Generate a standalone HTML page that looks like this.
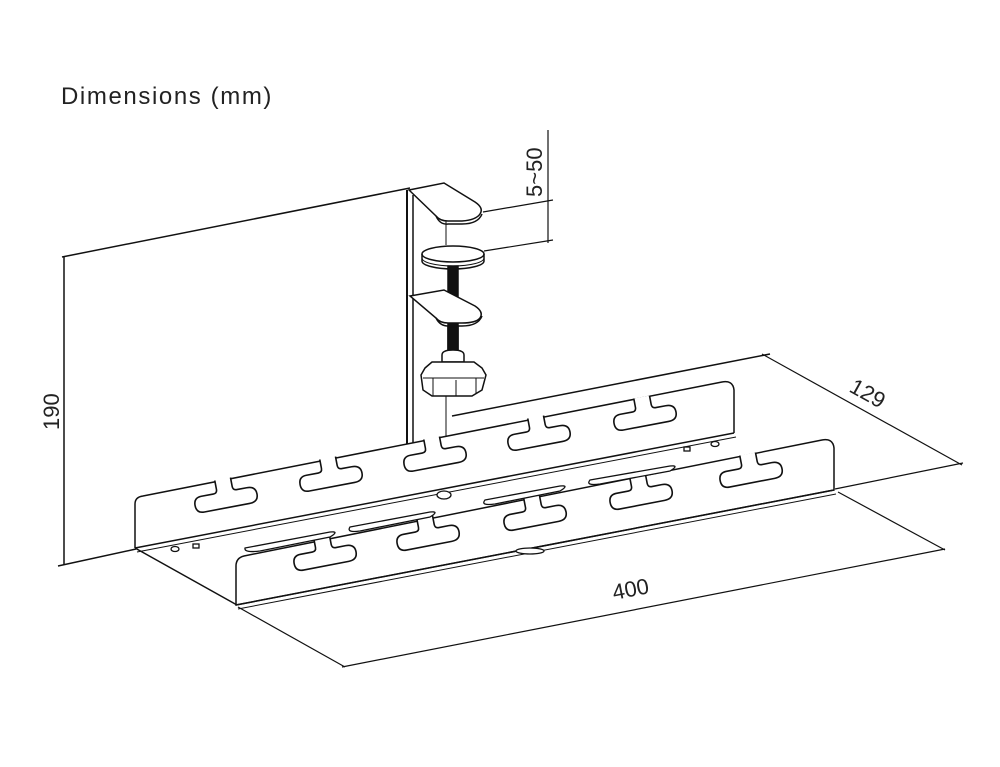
<!DOCTYPE html>
<html><head><meta charset="utf-8"><style>
html,body{margin:0;padding:0;background:#fff;}
svg{display:block}
</style></head><body>
<svg width="1000" height="767" viewBox="0 0 1000 767" xmlns="http://www.w3.org/2000/svg" font-family="Liberation Sans, sans-serif">
<defs>
<path id="n" d="M-8,-2 V7 Q-8,11 -12,11 H-24 Q-32,11 -32,19 Q-32,27 -24,27 H22 Q31,27 31,19 Q31,11 22,11 H12 Q8,11 8,7 V-2" fill="#fff" stroke="#111" stroke-width="1.6" stroke-linejoin="round"/>
</defs>
<rect width="1000" height="767" fill="#fff"/>
<text x="61" y="104" font-size="24" fill="#222" letter-spacing="1.6">Dimensions (mm)</text>

<g fill="none" stroke="#111" stroke-width="1.5">
<line x1="62" y1="257" x2="410" y2="188"/>
<line x1="64" y1="257" x2="64" y2="565"/>
<line x1="58" y1="566" x2="136" y2="549"/>
<line x1="407" y1="190" x2="407" y2="450" stroke-width="2"/>
<line x1="413" y1="195" x2="413" y2="445"/>
<line x1="446" y1="215" x2="446" y2="245" stroke-width="1"/>
<line x1="446" y1="395" x2="446" y2="440" stroke-width="1"/>
<path d="M409,190 L444,183 L475,202 Q484,208 480,214 Q476,220 462,221 L448,221 Q440,221 436,216 Z" fill="#fff"/>
<path d="M436,216 Q440,225 448,224 L462,224 Q478,224 482,214" />
<ellipse cx="453" cy="254" rx="31" ry="8" fill="#fff"/>
<path d="M422,254 V261 A31,8 0 0 0 484,261 V254"/>
<path d="M422,258 A31,8 0 0 0 484,258" stroke-width="1"/>
<rect x="448" y="266" width="10" height="90" fill="#111"/>
<path d="M410,296 L444,290 L475,306 Q484,312 480,318 Q476,323 462,323 L448,323 Q440,323 436,318 Z" fill="#fff"/>
<path d="M436,318 Q440,326 448,326 L462,326 Q478,326 482,316"/>
<rect x="448" y="327" width="10" height="27" fill="#111"/>
<path d="M442,355 Q442,350 453,350 Q464,350 464,355 V362 H442 Z" fill="#fff"/>
<path d="M425,368 L432,362 L474,362 L482,368 L486,375 L482,390 L472,396 L432,396 L423,390 L421,375 Z" fill="#fff"/>
<path d="M423,378 L484,378" stroke-width="1"/>
<line x1="433" y1="378" x2="433" y2="396" stroke-width="1"/><line x1="456" y1="380" x2="456" y2="396" stroke-width="1"/><line x1="476" y1="378" x2="476" y2="394" stroke-width="1"/>
<line x1="452" y1="416" x2="770" y2="354"/>
<line x1="483" y1="212" x2="553" y2="200" stroke-width="1.2"/>
<line x1="484" y1="251" x2="553" y2="240" stroke-width="1.2"/>
<line x1="548" y1="130" x2="548" y2="243" stroke-width="1.2"/>
<line x1="762" y1="354" x2="962" y2="465" stroke-width="1.2"/>
<line x1="835" y1="489" x2="963" y2="463" stroke-width="1.2"/>
<line x1="838" y1="492" x2="945" y2="550" stroke-width="1.2"/>
<line x1="238" y1="607" x2="345" y2="667" stroke-width="1.2"/>
<line x1="342" y1="667" x2="945" y2="549" stroke-width="1.2"/>

<path d="M135,548 V504 Q135,497 143,496 L722,382 Q733,380 734,390 V433" fill="#fff"/>
<line x1="135" y1="548" x2="734" y2="433"/>
<line x1="137" y1="552" x2="736" y2="437" stroke-width="1"/>
<line x1="135" y1="548" x2="237" y2="605"/>
<path d="M236,605 V566 Q236,558 244,556 L822,440 Q833,438 834,448 V490 Z" fill="#fff"/>
<line x1="236" y1="605" x2="834" y2="490"/>
<line x1="238" y1="609" x2="836" y2="494" stroke-width="1"/>
</g>
<g transform="translate(223,481) rotate(-10.7)"><use href="#n"/></g>
<g transform="translate(328,460) rotate(-10.7)"><use href="#n"/></g>
<g transform="translate(432,440) rotate(-10.7)"><use href="#n"/></g>
<g transform="translate(536,419) rotate(-10.7)"><use href="#n"/></g>
<g transform="translate(642,399) rotate(-10.7)"><use href="#n"/></g>
<g transform="translate(322,539) rotate(-10.9)"><use href="#n"/></g>
<g transform="translate(425,519) rotate(-10.9)"><use href="#n"/></g>
<g transform="translate(532,499) rotate(-10.9)"><use href="#n"/></g>
<g transform="translate(638,478) rotate(-10.9)"><use href="#n"/></g>
<g transform="translate(748,456) rotate(-10.9)"><use href="#n"/></g>
<g fill="#fff" stroke="#111" stroke-width="1.3">
<path d="M245,548 L330,532 Q340,531 330,537 L260,551 Q244,553 245,548 Z"/>
<path d="M350,527 L430,512 Q440,511 430,517 L360,531 Q346,533 350,527 Z"/>
<path d="M485,500 L560,486 Q570,485 560,491 L495,504 Q480,506 485,500 Z"/>
<path d="M590,480 L670,466 Q680,465 670,471 L600,484 Q585,486 590,480 Z"/>
<ellipse cx="444" cy="495" rx="7" ry="4"/>
<ellipse cx="530" cy="551" rx="14" ry="3"/>
<ellipse cx="175" cy="549" rx="4" ry="2.5"/><rect x="193" y="544" width="6" height="4"/>
<ellipse cx="715" cy="444" rx="4" ry="2.5"/><rect x="684" y="447" width="6" height="4"/>
</g>
<g fill="#222" font-size="22">
<text transform="translate(59,430) rotate(-90)">190</text>
<text transform="translate(542,197) rotate(-90)">5~50</text>
<text transform="translate(848,391) rotate(29)">129</text>
<text transform="translate(614,600) rotate(-11)">400</text>
</g>
</svg>
</body></html>
